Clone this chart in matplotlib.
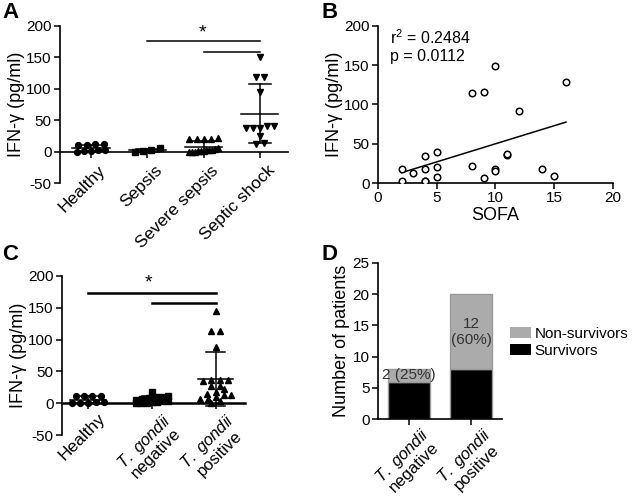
import numpy as np
import matplotlib.pyplot as plt
import matplotlib.transforms as mtransforms
from matplotlib.patches import Patch

plt.rcParams['font.family'] = ['Liberation Sans', 'DejaVu Sans']
plt.rcParams['mathtext.fontset'] = 'custom'
plt.rcParams['mathtext.rm'] = 'Liberation Sans'
plt.rcParams['mathtext.it'] = 'Liberation Sans:italic'
plt.rcParams['axes.unicode_minus'] = False

# panel A
groups_a = ['Healthy', 'Sepsis', 'Severe sepsis', 'Septic shock']
healthy = [12, 11, 11, 12, 2, 1, 0, 1, 2]
sepsis = [5, 2, 1, 0]
severe = [22, 20, 20, 20, 20, 5, 4, 3, 2, 1, 1, 0, 0, 2, 1, 0]
septic = [150, 118, 118, 95, 40, 38, 38, 38, 40, 25, 12, 14]

# panel B
sofa = [10, 16, 8, 9, 12, 5, 4, 11, 11, 5, 8, 2, 4, 3, 10, 10, 14, 15, 5, 9, 2, 4, 4]
ifn_sofa = [149, 129, 115, 116, 92, 39, 35, 36, 37, 21, 22, 18, 18, 13, 18, 15, 18, 9, 8, 7, 3, 3, 2]

# panel C
groups_c = ['Healthy', '$\\it{T.\\ gondii}$\nnegative', '$\\it{T.\\ gondii}$\npositive']
tg_neg = [18, 12, 10, 9, 8, 6, 5, 4, 3, 2, 2, 1, 0, 0]
tg_pos = [145, 113, 113, 88, 37, 36, 35, 36, 27, 27, 22, 17, 14, 13, 13, 10, 7, 6, 3, 1]

# panel D
groups_d = ['$\\it{T.\\ gondii}$\nnegative', '$\\it{T.\\ gondii}$\npositive']
survivors = [6, 8]
non_survivors = [2, 12]
d_text = ['2 (25%)', '12\n(60%)']


def spread(vals, binw, dx, maxw):
    vals = np.asarray(vals, float)
    xs = np.zeros(len(vals))
    bins = np.round(vals / binw)
    for b in np.unique(bins):
        idx = np.where(bins == b)[0]
        idx = idx[np.argsort(vals[idx])]
        n = len(idx)
        step = min(dx, maxw / max(n - 1, 1))
        xs[idx] = (np.arange(n) - (n - 1) / 2) * step
    return xs


def dotplot(ax, data, markers, binw, dx, maxw, mw, cw):
    for i, (vals, m) in enumerate(zip(data, markers)):
        xs = i + spread(vals, binw, dx, maxw)
        ax.plot(xs, vals, m, color='black', ms=4.2, ls='none', zorder=3)
        mu = np.mean(vals)
        sd = np.std(vals, ddof=1)
        ax.plot([i - mw, i + mw], [mu, mu], color='black', lw=1.1)
        ax.plot([i, i], [mu - sd, mu + sd], color='black', lw=1.1)
        ax.plot([i - cw, i + cw], [mu + sd, mu + sd], color='black', lw=1.1)
        ax.plot([i - cw, i + cw], [mu - sd, mu - sd], color='black', lw=1.1)


def style(ax):
    for s in ['top', 'right']:
        ax.spines[s].set_visible(False)
    for s in ['left', 'bottom']:
        ax.spines[s].set_linewidth(1.2)
    ax.tick_params(direction='out', length=4, width=1.1, labelsize=11, pad=2)


def shift_labels(ax, dx, dy):
    # nudge rotated tick labels (pixels at 100 dpi)
    off = mtransforms.ScaledTranslation(dx / 100, dy / 100, fig.dpi_scale_trans)
    for lab in ax.get_xticklabels():
        lab.set_transform(lab.get_transform() + off)


fig = plt.figure(figsize=(6.35, 4.98), dpi=100)
xlab = dict(rotation=45, ha='right', va='top', rotation_mode='anchor', fontsize=12.5)
xlab2 = dict(rotation=45, ha='right', va='top', rotation_mode='anchor', fontsize=12,
             multialignment='center', linespacing=1.0)

# A
ax = fig.add_axes([0.0945, 0.6325, 0.359, 0.3155])
dotplot(ax, [healthy, sepsis, severe, septic], ['o', 's', '^', 'v'], 10, 0.15, 0.5, 0.33, 0.2)
style(ax)
ax.spines['bottom'].set_position(('data', 0))
ax.set_ylim(-50, 200)
ax.set_xlim(-0.55, 3.5)
ax.set_yticks([-50, 0, 50, 100, 150, 200])
ax.set_xticks(range(4))
ax.set_xticklabels(groups_a, **xlab)
shift_labels(ax, 7, -3)
ax.set_ylabel('IFN-γ (pg/ml)', fontsize=13, labelpad=1)
ax.plot([1, 3], [176, 176], color='black', lw=1.1)
ax.plot([2, 3], [158, 158], color='black', lw=1.1)
ax.text(1.98, 176, '*', ha='center', va='bottom', fontsize=14)

# B
ax = fig.add_axes([0.5953, 0.6325, 0.370, 0.3155])
ax.scatter(sofa, ifn_sofa, s=22, facecolors='white', edgecolors='black', linewidths=1.1, zorder=3)
k, b0 = np.polyfit(sofa, ifn_sofa, 1)
xx = np.array([min(sofa), max(sofa)])
ax.plot(xx, k * xx + b0, color='black', lw=1.1)
style(ax)
ax.set_xlim(0, 20)
ax.set_ylim(0, 200)
ax.set_xticks([0, 5, 10, 15, 20])
ax.set_yticks([0, 50, 100, 150, 200])
ax.set_xlabel('SOFA', fontsize=13, labelpad=1)
ax.set_ylabel('IFN-γ (pg/ml)', fontsize=13, labelpad=1)
ax.text(1.0, 185, 'r$^2$ = 0.2484', fontsize=11.5, va='center')
ax.text(1.0, 161, 'p = 0.0112', fontsize=11.5, va='center')

# C
ax = fig.add_axes([0.0976, 0.1265, 0.289, 0.3193])
dotplot(ax, [healthy, tg_neg, tg_pos], ['o', 's', '^'], 9, 0.13, 0.5, 0.28, 0.15)
style(ax)
ax.spines['bottom'].set_position(('data', 0))
ax.spines['bottom'].set_linewidth(1.8)
ax.set_ylim(-50, 200)
ax.set_xlim(-0.41, 2.47)
ax.set_yticks([-50, 0, 50, 100, 150, 200])
ax.set_xticks(range(3))
ax.set_xticklabels(groups_c, **xlab2)
shift_labels(ax, 10, 1)
ax.get_xticklabels()[0].set_fontsize(12.5)
ax.set_ylabel('IFN-γ (pg/ml)', fontsize=13, labelpad=1)
ax.plot([0, 2], [174, 174], color='black', lw=1.8)
ax.plot([1, 2], [157, 157], color='black', lw=1.8)
ax.text(0.94, 176, '*', ha='center', va='bottom', fontsize=14)

# D
ax = fig.add_axes([0.5953, 0.1586, 0.1953, 0.3133])
xd = np.arange(len(groups_d))
ax.bar(xd, survivors, 0.68, color='black', edgecolor='#9a9a9a', lw=1)
ax.bar(xd, non_survivors, 0.68, bottom=survivors, color='#ababab', edgecolor='#9a9a9a', lw=1)
for i in range(len(xd)):
    ax.text(xd[i], survivors[i] + non_survivors[i] / 2, d_text[i], ha='center', va='center',
            fontsize=11, color='#333333')
style(ax)
ax.set_xlim(-0.5, 1.5)
ax.set_ylim(0, 25)
ax.set_yticks([0, 5, 10, 15, 20, 25])
ax.set_xticks(xd)
ax.set_xticklabels(groups_d, **xlab2)
shift_labels(ax, 11, 3)
ax.set_ylabel('Number of patients', fontsize=13, labelpad=2)
fig.legend([Patch(facecolor='#ababab'), Patch(facecolor='black')], ['Non-survivors', 'Survivors'],
           loc='center left', bbox_to_anchor=(0.803, 0.312), frameon=False, fontsize=11,
           borderpad=0, borderaxespad=0, handlelength=1.35, handleheight=0.7,
           handletextpad=0.25, labelspacing=0.2)

for x, y, lab in [(0.004, 0.995, 'A'), (0.506, 0.995, 'B'), (0.004, 0.51, 'C'), (0.506, 0.51, 'D')]:
    fig.text(x, y, lab, fontsize=16, weight='bold', va='top')

fig.savefig('out.png', dpi=100)
